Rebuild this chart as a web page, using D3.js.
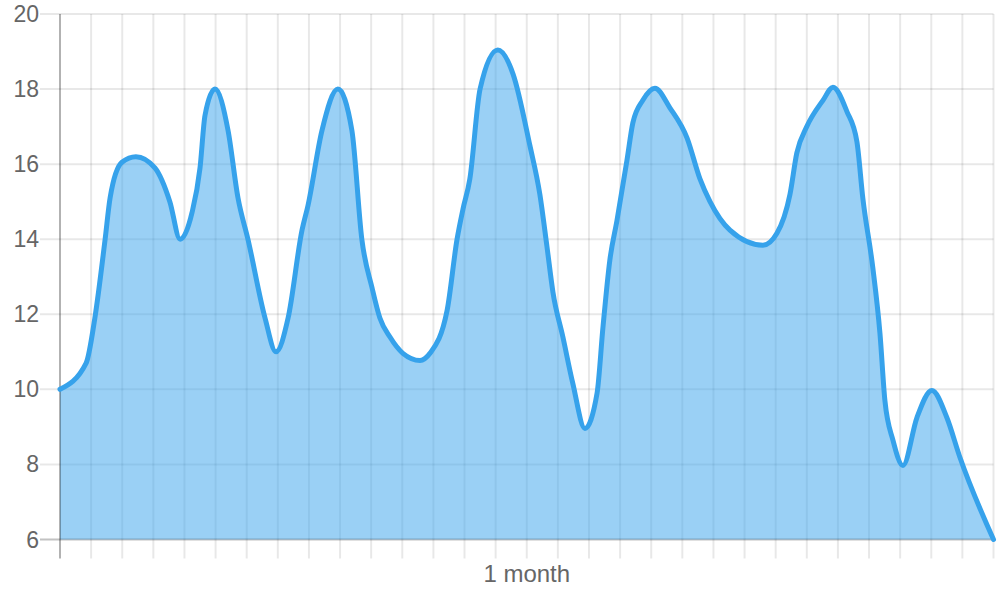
<!DOCTYPE html>
<html>
<head>
<meta charset="utf-8">
<script src="https://cdn.jsdelivr.net/npm/d3@7"></script>
<style>
    body { margin: 0; background: #fff; }
    #chart svg { display: block; }
    .tick-label { font-family: "Liberation Sans", Arial, sans-serif; font-size: 23px; fill: #666; }
    .axis-title { font-family: "Liberation Sans", Arial, sans-serif; font-size: 24px; fill: #666; }
</style>
</head>
<body>
<div id="chart"><svg width="1000" height="600"></svg></div>
<script>

// Day of each reading (grid is one line per day, 30 days = 1 month)
var days = [0, 0.84, 1.12, 1.45, 1.61, 1.99, 2.44, 3.05, 3.53, 3.86,
    4.24, 4.5, 4.66, 4.98, 5.4, 5.72, 6.04, 6.59, 6.94, 7.33,
    7.78, 7.97, 8.42, 8.93, 9.38, 9.7, 10.03, 10.28, 10.6, 11.02,
    11.57, 11.89, 12.44, 12.76, 12.95, 13.17, 13.5, 14.07, 14.56, 15.1,
    15.42, 15.65, 15.84, 16.16, 16.48, 16.87, 17.26, 17.45, 17.67, 17.9,
    18.22, 18.41, 18.73, 19.12, 19.6, 20.15, 20.57, 20.89, 21.53, 22.59,
    23.04, 23.46, 23.68, 24.0, 24.52, 24.84, 25.29, 25.61, 25.8, 26.12,
    26.35, 26.51, 26.77, 27.09, 27.54, 28.02, 28.5, 28.92, 30];

// Value of each reading
var values = [10, 10.7, 11.9, 14.0, 15.1, 16.05, 16.2, 15.9, 15.0, 14.0,
    14.7, 15.9, 17.3, 18.0, 16.9, 15.1, 14.0, 11.9, 11.0, 11.9,
    14.25, 14.9, 16.9, 18.0, 16.9, 14.0, 12.7, 11.9, 11.4, 10.96,
    10.77, 10.96, 12.1, 14.0, 14.8, 15.6, 18.0, 19.04, 18.4, 16.5,
    15.2, 13.8, 12.6, 11.4, 10.16, 8.96, 9.9, 11.66, 13.44, 14.5,
    16.1, 17.1, 17.7, 18.02, 17.5, 16.7, 15.6, 15.0, 14.24, 13.84,
    14.16, 15.2, 16.3, 17.0, 17.7, 18.05, 17.4, 16.6, 15.1, 13.25,
    11.5, 9.7, 8.64, 7.97, 9.25, 9.97, 9.25, 8.19, 6];

// Axis ticks
var yTicks = [6, 8, 10, 12, 14, 16, 18, 20];
var xTicks = d3.range(0, 31);
var xTitle = '1 month';


/*****************************/
// Set up chart
/*****************************/

var svg = d3.select('#chart').select('svg');

var plot = { left: 60, right: 993.5, top: 14, bottom: 539.5 };

var x = d3.scaleLinear().domain([0, 30]).range([plot.left, plot.right]);
var y = d3.scaleLinear().domain([6, 20]).range([plot.bottom, plot.top]);

var data = days.map(function(d, i) { return { d: d, v: values[i] }; });

// Horizontal grid lines (extend left as tick marks)
svg.append('g')
    .selectAll('line')
    .data(yTicks)
    .enter()
    .append('line')
    .attr('x1', plot.left - 20)
    .attr('x2', plot.right)
    .attr('y1', function(d) { return y(d); })
    .attr('y2', function(d) { return y(d); })
    .attr('stroke', 'rgba(0,0,0,0.09)')
    .attr('stroke-width', 2);

// Vertical grid lines (extend below as tick marks)
svg.append('g')
    .selectAll('line')
    .data(xTicks.slice(1))
    .enter()
    .append('line')
    .attr('x1', function(d) { return x(d); })
    .attr('x2', function(d) { return x(d); })
    .attr('y1', plot.top)
    .attr('y2', plot.bottom + 19)
    .attr('stroke', 'rgba(0,0,0,0.09)')
    .attr('stroke-width', 2);

// Y tick labels
svg.append('g')
    .selectAll('text')
    .data(yTicks)
    .enter()
    .append('text')
    .attr('class', 'tick-label')
    .attr('x', plot.left - 21)
    .attr('y', function(d) { return y(d); })
    .attr('dy', '0.35em')
    .style('text-anchor', 'end')
    .text(function(d) { return d; });

// X axis title
svg.append('text')
    .attr('class', 'axis-title')
    .attr('x', x(15))
    .attr('y', 582)
    .style('text-anchor', 'middle')
    .text(xTitle);


/*****************************/
// Draw area + line
/*****************************/

var area = d3.area()
    .curve(d3.curveMonotoneX)
    .x(function(d) { return x(d.d); })
    .y0(y(6))
    .y1(function(d) { return y(d.v); });

var line = d3.line()
    .curve(d3.curveMonotoneX)
    .x(function(d) { return x(d.d); })
    .y(function(d) { return y(d.v); });

svg.append('path')
    .datum(data)
    .attr('d', area)
    .attr('fill', 'rgba(54,162,235,0.5)');

// Axis lines
svg.append('line')
    .attr('x1', plot.left - 20).attr('x2', plot.right)
    .attr('y1', plot.bottom).attr('y2', plot.bottom)
    .attr('stroke', 'rgba(0,0,0,0.16)')
    .attr('stroke-width', 2);

svg.append('line')
    .attr('x1', plot.left).attr('x2', plot.left)
    .attr('y1', plot.top).attr('y2', plot.bottom + 19)
    .attr('stroke', 'rgba(0,0,0,0.3)')
    .attr('stroke-width', 2);

svg.append('path')
    .datum(data)
    .attr('d', line)
    .attr('fill', 'none')
    .attr('stroke', '#36a2eb')
    .attr('stroke-width', 5)
    .attr('stroke-linecap', 'round')
    .attr('stroke-linejoin', 'round');

</script>
</body>
</html>
